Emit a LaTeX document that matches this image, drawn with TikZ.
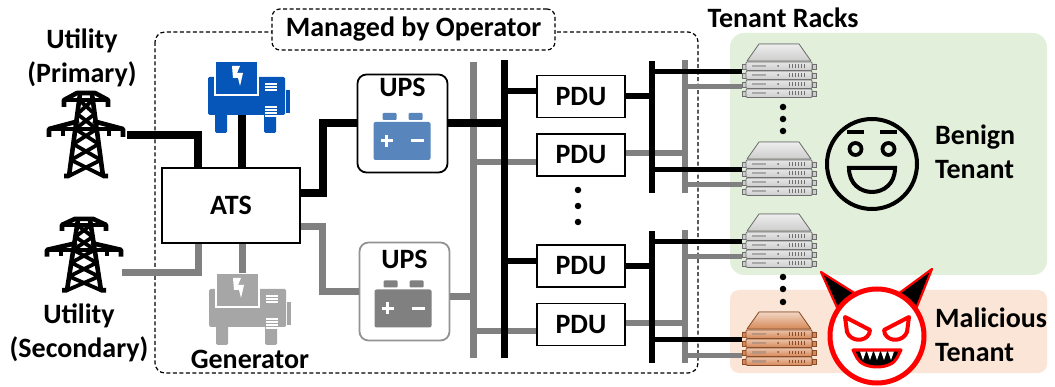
\documentclass[tikz,border=0pt]{standalone}
\usepackage{fontspec}
\setmainfont{Carlito}
\usetikzlibrary{positioning}

\definecolor{genblue}{RGB}{6,86,186}
\definecolor{batblue}{RGB}{88,134,188}
\definecolor{wiregray}{RGB}{128,128,128}
\definecolor{gengray}{RGB}{166,166,166}
\definecolor{benigngreen}{RGB}{226,239,218}
\definecolor{malorange}{RGB}{251,229,214}
\definecolor{rackgray}{RGB}{205,205,205}
\definecolor{rackgrayedge}{RGB}{110,110,110}
\definecolor{rackorange}{RGB}{214,136,86}
\definecolor{rackorangeedge}{RGB}{140,76,38}

\tikzset{
  pics/pylon/.style={code={
    \begin{scope}[line width=4.6pt, line join=round]
      \draw (-22,15) -- (-22,8) -- (-9,1) -- (9,1) -- (22,8) -- (22,15);
      \draw (-22,8) -- (22,8);
      \draw (-37,45) -- (-37,37) -- (-7,29);
      \draw (37,45) -- (37,37) -- (7,29);
      \draw (-37,37) -- (37,37);
      \draw (-23,37) -- (-23,44) (23,37) -- (23,44);
      \draw (-6,2) -- (-17,84) -- (-22,84);
      \draw (6,2) -- (17,84) -- (22,84);
      \draw[line width=3.8pt] (-6.8,8) -- (8.7,22) -- (-10.7,37) -- (12.7,52) -- (-14.9,68) -- (17,84);
      \draw[line width=3.8pt] (6.8,8) -- (-8.7,22) -- (10.7,37) -- (-12.7,52) -- (14.9,68) -- (-17,84);
    \end{scope}
  }},
  pics/genset/.style={code={
    \fill[#1, rounded corners=1.5pt] (-38,-19) rectangle (39,19);
    \fill[#1] (40,-6) rectangle (44,17);
    \fill[#1, rounded corners=1.5pt] (-31,17) rectangle (-19,37) (18,17) rectangle (30,37);
    \filldraw[fill=#1, draw=white, line width=1.5pt] (-31,-35) rectangle (12,-1);
    \fill[white] (-14,-30) -- (-6,-30) -- (-9,-23) -- (-3,-23) -- (-6,-10) -- (-8,-18) -- (-13,-18) -- cycle;
    \foreach \v in {-12,-9,-6,11,14,17,20} \draw[white, line width=1.3pt] (19,\v) -- (31,\v);
    \coordinate (-top) at (-5,-35);
    \coordinate (-bot) at (-4,19);
  }},
  pics/battery/.style={code={
    \fill[#1, rounded corners=2pt] (-29,-19) rectangle (28,19);
    \fill[#1, rounded corners=1pt] (-20,-28) rectangle (-6,-21) (6,-28) rectangle (20,-21);
    \draw[white, line width=3pt] (-22,0) -- (-10,0) (-16,-6) -- (-16,6) (8,0) -- (21,0);
  }},
  pics/server/.style 2 args={code={
    \filldraw[top color=#1!35!white, bottom color=#1, draw=#2, line width=0.8pt, line join=round]
      (-20,0) -- (20,0) -- (32,17) -- (-32,17) -- cycle;
    \foreach \k in {0,...,3} {
      \filldraw[fill=#1, draw=#2, line width=0.6pt] (-37,20+9*\k) rectangle (-33,25+9*\k) (33,20+9*\k) rectangle (37,25+9*\k);
      \filldraw[top color=#1!50!white, bottom color=#1, draw=#2, line width=0.7pt, rounded corners=1pt] (-33,18+9*\k) rectangle (33,26.5+9*\k);
      \fill[#2!60!white] (-27,21+9*\k) rectangle (-13,23.5+9*\k);
      \fill[#2] (-1,22+9*\k) circle (1);
      \foreach \u in {10,13,...,25} \draw[#2, line width=0.6pt] (\u,20.5+9*\k) -- (\u,24+9*\k);
    }
    \coordinate (-hi) at (-37,28);
    \coordinate (-lo) at (-37,43);
  }}
}

\begin{document}
\begin{tikzpicture}[x=1pt, y=-1pt,
    lbl/.style={font=\bfseries\fontsize{28}{34}\selectfont, inner sep=0pt, align=center},
    boxed/.style={lbl, draw, line width=1.8pt, fill=white},
    pdubox/.style={boxed, minimum width=88pt, minimum height=42pt},
    upsbox/.style={draw, line width=1.8pt, fill=white, rounded corners=9pt, minimum width=90pt, minimum height=98pt},
    feed/.style={line width=8pt},
    feedgray/.style={line width=7pt, wiregray},
    bar/.style={line width=7pt},
    bargray/.style={line width=7pt, wiregray},
    link/.style={line width=6pt},
    linkgray/.style={line width=5.5pt, wiregray},
    tap/.style={line width=5pt},
    tapgray/.style={line width=5pt, wiregray},
    edot/.style={circle, fill, inner sep=0pt, minimum size=6.5pt},
    opdash/.style={line width=1.2pt, dash pattern=on 4pt off 2.5pt}]
  \useasboundingbox (0,0) rectangle (1055,387);

  % tenant zones
  \fill[benigngreen, rounded corners=14pt] (730,33) rectangle (1047,275);
  \fill[malorange, rounded corners=9pt] (730,290) rectangle (1047,373);
  \node[lbl] (racks) at (783,18) {Tenant Racks};

  % operator side
  \draw[opdash, rounded corners=10pt] (155,32) rectangle (698,373);
  \node[lbl, draw, opdash, rounded corners=8pt, fill=white, minimum width=283pt, minimum height=41pt] (opr) at (413.5,29.5) {Managed by Operator};

  % utility feeds
  \pic (grid1) at (86,92) {pylon};
  \pic[yscale=0.86] (grid2) at (84,218) {pylon};
  \node[lbl] (pritxt) at (82,58) {Utility\\(Primary)};
  \node[lbl] (sectxt) at (79,333) {Utility\\(Secondary)};
  \coordinate (pri) at (127,135);
  \coordinate (sec) at (122,273);

  \pic (gen1) at (246,96) {genset=genblue};
  \pic (gen2) at (247,308) {genset=gengray};
  \node[lbl] (gentxt) at (250,359) {Generator};

  \node[boxed, minimum width=138pt, minimum height=75pt] (ats) at (231,205.5) {ATS};
  \draw[feed] (pri) -| ([xshift=-33pt]ats.north);
  \draw[feed] (gen1-bot) -- (gen1-bot |- ats.north);
  \draw[feedgray] (sec) -| ([xshift=-33pt]ats.south);
  \draw[feedgray] (gen2-top) -- (gen2-top |- ats.south);

  % UPS
  \node[upsbox] (ups1) at (402.5,123.5) {};
  \node[lbl, below=4pt of ups1.north] (ups1txt) {UPS};
  \pic at (402.5,141) {battery=batblue};
  \node[upsbox, draw=wiregray!85] (ups2) at (404.5,291.5) {};
  \node[lbl, below=8pt of ups2.north] (ups2txt) {UPS};
  \pic at (403.5,308.5) {battery=wiregray};

  \draw[feed] ([yshift=12pt]ats.east) -- ++(22,0) |- (ups1.west);
  \draw[feedgray] ([yshift=-21pt]ats.east) -- ++(22,0) |- (ups2.west);

  % PDUs
  \node[pdubox] (pdu1) at (581,96.5) {PDU};
  \node[pdubox] (pdu2) at (581,155) {PDU};
  \node[pdubox] (pdu3) at (581,266) {PDU};
  \node[pdubox] (pdu4) at (581,324.5) {PDU};
  \node[edot] (vd1) at (578,190) {};
  \node[edot] (vd2) at (578,206) {};
  \node[edot] (vd3) at (578,222) {};

  % main buses
  \coordinate (busG top) at (473,62);  \coordinate (busG bot) at (473,358);
  \coordinate (busK top) at (504,60);  \coordinate (busK bot) at (504,358);
  \draw[bargray] (busG top) -- (busG bot);
  \draw[feedgray] ([yshift=-5pt]ups2.east) coordinate (u2e) -- (u2e -| busG top);
  \draw[linkgray] ([yshift=-7pt]pdu2.west) coordinate (p2w) -- (p2w -| busG top);
  \draw[linkgray] ([yshift=-6.5pt]pdu4.west) coordinate (p4w) -- (p4w -| busG top);
  \draw[bar] (busK top) -- (busK bot);
  \draw[feed] (ups1.east) -- (ups1.east -| busK top);
  \draw[link] ([yshift=5.5pt]pdu1.west) coordinate (p1w) -- (p1w -| busK top);
  \draw[link] ([yshift=5pt]pdu3.west) coordinate (p3w) -- (p3w -| busK top);

  % racks
  \pic (s1) at (779,44) {server={rackgray}{rackgrayedge}};
  \pic (s2) at (779,142) {server={rackgray}{rackgrayedge}};
  \pic (s3) at (779,214) {server={rackgray}{rackgrayedge}};
  \pic (s4) at (779,312) {server={rackorange}{rackorangeedge}};
  \foreach \y [count=\i] in {107,119,131} \node[edot] (rd\i) at (783,\y) {};
  \foreach \y [count=\i] in {277,289,302} \node[edot] (re\i) at (783,\y) {};

  % rack-side bars
  \coordinate (rk1 top) at (652,61);  \coordinate (rk1 bot) at (652,193);
  \coordinate (rg1 top) at (685,60);  \coordinate (rg1 bot) at (685,193);
  \coordinate (rk2 top) at (652,231); \coordinate (rk2 bot) at (652,363);
  \coordinate (rg2 top) at (685,230); \coordinate (rg2 bot) at (685,363);
  \draw[bargray, line width=6pt] (rg1 top) -- (rg1 bot) (rg2 top) -- (rg2 bot);
  \draw[linkgray] ([yshift=2pt]pdu2.east) coordinate (p2e) -- (p2e -| rg1 top);
  \draw[linkgray] ([yshift=1.5pt]pdu4.east) coordinate (p4e) -- (p4e -| rg2 top);
  \draw[tapgray] (s1-lo -| rg1 top) -- (s1-lo);
  \draw[tapgray] (s2-lo -| rg1 top) -- (s2-lo);
  \draw[tapgray] (s3-lo -| rg2 top) -- (s3-lo);
  \draw[tapgray] (s4-lo -| rg2 top) -- (s4-lo);
  \draw[bar, line width=6pt] (rk1 top) -- (rk1 bot) (rk2 top) -- (rk2 bot);
  \draw[link] (pdu1.east) -- (pdu1.east -| rk1 top);
  \draw[link] (pdu3.east) -- (pdu3.east -| rk2 top);
  \draw[tap] (s1-hi -| rk1 top) -- (s1-hi);
  \draw[tap] (s2-hi -| rk1 top) -- (s2-hi);
  \draw[tap] (s3-hi -| rk2 top) -- (s3-hi);
  \draw[tap] (s4-hi -| rk2 top) -- (s4-hi);

  % benign tenant
  \node[circle, draw, line width=4pt, minimum size=90pt, inner sep=0pt] (benign) at (872,164) {};
  \begin{scope}[shift={(benign.center)}, line width=4pt]
    \draw (-25,-32) -- (-8,-32) (8,-32) -- (25,-32);
    \draw[line width=3.8pt] (-16.5,-15) circle (6) (16.5,-15) circle (6);
    \draw (-23,4) -- (23,4) .. controls (23,36) and (-23,36) .. (-23,4) -- cycle;
  \end{scope}
  \node[lbl, align=left, anchor=west] (bentxt) at (935,152) {Benign\\Tenant};

  % malicious tenant
  \filldraw[fill=black, draw=red, line width=2.2pt, line join=round] (821,272) -- (856,294) -- (840,314) -- cycle;
  \filldraw[fill=black, draw=red, line width=2.2pt, line join=round] (932,269) -- (914,314) -- (898,294) -- cycle;
  \node[circle, draw=red, fill=white, line width=5pt, minimum size=94pt, inner sep=0pt] (devil) at (877,336) {};
  \begin{scope}[shift={(devil.center)}, red, line width=4pt, line join=round]
    \draw (-32,-19) -- (-7,-6) -- (-8,-2) .. controls (-12,6) and (-26,6) .. (-30,-4) -- cycle;
    \draw (32,-19) -- (7,-6) -- (8,-2) .. controls (12,6) and (26,6) .. (30,-4) -- cycle;
    \filldraw[fill=black, line width=3pt] (-24,14) -- (24,14) -- (20,22) .. controls (14,34) and (-14,34) .. (-20,22) -- cycle;
    \foreach \t in {-14,-7,0,7,14} \fill[white] (\t-3,15.5) -- (\t+3,15.5) -- (\t,24) -- cycle;
  \end{scope}
  \node[lbl, align=left, anchor=west] (maltxt) at (935,335) {Malicious\\Tenant};
\end{tikzpicture}
\end{document}
